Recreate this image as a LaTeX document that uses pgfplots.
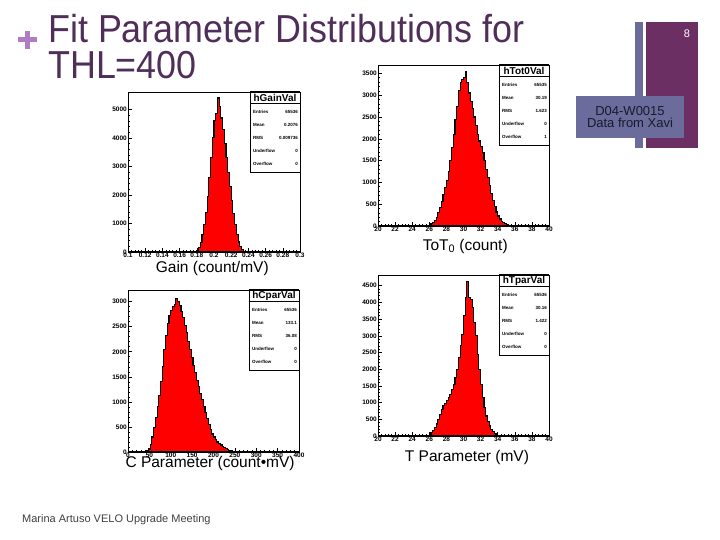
\documentclass[border=0pt]{standalone}
\usepackage{pgfplots}
\pgfplotsset{compat=1.18}
\usepackage{pgfplotstable}
\usepackage{fontspec}
\usepackage{graphicx}
\setmainfont{Liberation Sans}

\definecolor{titlecol}{HTML}{4F2F5A}
\definecolor{pluscol}{HTML}{B07CC2}
\definecolor{slate}{HTML}{6B6B9C}
\definecolor{plum}{HTML}{6B2F63}
\definecolor{foot}{HTML}{404040}
\definecolor{boxtext}{HTML}{1A1A2E}

% histogram contents, bin low edge and count
\pgfplotstableread{
x y
0.100 0
0.176 0
0.178 20
0.180 60
0.182 150
0.184 320
0.186 600
0.188 950
0.190 1400
0.192 1950
0.194 2600
0.196 3300
0.198 4000
0.200 4600
0.202 4850
0.204 5400
0.206 5100
0.208 4700
0.210 4300
0.212 3800
0.214 3300
0.216 2800
0.218 2300
0.220 1800
0.222 1350
0.224 950
0.226 600
0.228 350
0.230 180
0.232 80
0.234 30
0.236 10
0.238 0
0.300 0
}\gaindata

\pgfplotstableread{
x y
20.0 0
25.6 10
25.8 20
26.0 40
26.2 60
26.4 90
26.6 130
26.8 200
27.0 300
27.2 420
27.4 560
27.6 720
27.8 880
28.0 1050
28.2 1250
28.4 1500
28.6 1800
28.8 2100
29.0 2450
29.2 2750
29.4 3100
29.6 3300
29.8 3350
30.0 3400
30.2 3540
30.4 3300
30.6 3050
30.8 2850
31.0 2700
31.2 2500
31.4 2300
31.6 2100
31.8 1950
32.0 1820
32.2 1680
32.4 1500
32.6 1300
32.8 1120
33.0 930
33.2 750
33.4 580
33.6 440
33.8 320
34.0 230
34.2 160
34.4 110
34.6 75
34.8 50
35.0 30
35.2 20
35.4 10
35.6 5
35.8 0
40.0 0
}\totdata

\pgfplotstableread{
x y
0 0
40 5
44 20
48 60
52 150
56 300
60 480
64 680
68 900
72 1130
76 1400
80 1700
84 2050
88 2330
92 2560
96 2720
100 2830
104 2900
108 2950
112 3070
116 3000
120 2920
124 2800
128 2680
132 2530
136 2380
140 2200
144 2040
148 1880
152 1730
156 1580
160 1430
164 1300
168 1170
172 1040
176 910
180 780
184 660
188 540
192 440
196 360
200 300
204 250
208 200
212 170
216 140
220 110
224 85
228 65
232 50
236 35
240 25
244 15
248 10
252 5
256 0
400 0
}\cpardata

\pgfplotstableread{
x y
20.0 0
25.8 20
26.0 50
26.2 100
26.4 160
26.6 250
26.8 360
27.0 500
27.2 650
27.4 800
27.6 900
27.8 970
28.0 1050
28.2 1150
28.4 1250
28.6 1400
28.8 1550
29.0 1750
29.2 2000
29.4 2350
29.6 2700
29.8 3050
30.0 3600
30.2 4150
30.4 4620
30.6 4150
30.8 4100
31.0 3850
31.2 3400
31.4 3000
31.6 2450
31.8 2000
32.0 1550
32.2 1150
32.4 850
32.6 600
32.8 430
33.0 300
33.2 200
33.4 130
33.6 80
33.8 50
34.0 25
34.2 10
34.4 0
40.0 0
}\tpardata

\pgfplotsset{
  roothist/.style={
    scale only axis,
    anchor=south west,
    clip=false,
    xtick pos=bottom, ytick pos=left,
    tick align=inside,
    major tick length=4pt, minor tick length=2pt,
    minor x tick num=4, minor y tick num=4,
    tick style={black, line width=0.6pt},
    axis line style={line width=0.6pt},
    ticklabel style={font=\fontsize{6.5}{7}\selectfont\bfseries, inner sep=1pt},
    /pgf/number format/assume math mode=true,
    /pgf/number format/1000 sep={},
    scaled ticks=false,
    ymin=0,
  },
  histfill/.style={const plot, fill=red, draw=black, line width=1.1pt, mark=none},
}

\newcommand{\labfont}{\fontsize{15.5}{16}\selectfont}
\newcommand{\statbox}[7]{%
  \begin{scope}[shift={(#1.north east)}]
    \draw[fill=white, line width=0.5pt] (-50,0) rectangle (0,-80);
    \draw[line width=1pt] (-50,-12) -- (0,-12);
    \draw[line width=1pt] (-50,0) -- (0,0);
    \node[font=\fontsize{10}{10}\selectfont\bfseries, inner sep=0pt] at (-25,-6) {#2};
    \foreach \lab/\val [count=\i] in {Entries/#3, Mean/#4, RMS/#5, Underflow/#6, Overflow/#7} {
      \node[anchor=west, font=\fontsize{4.5}{5}\selectfont\bfseries, inner sep=0pt] at (-47,{-7-13*\i}) {\lab};
      \node[anchor=east, font=\fontsize{4.5}{5}\selectfont\bfseries, inner sep=0pt] at (-2,{-7-13*\i}) {\val};
    }
  \end{scope}
}

\begin{document}
\begin{tikzpicture}[x=1pt, y=1pt]
\path[use as bounding box, fill=white] (0,0) rectangle (720,540);

% slide decoration
\fill[slate] (635,518) rectangle (643,392);
\fill[plum] (646,518) rectangle (698,392);
\node[text=white, font=\fontsize{11}{11}\selectfont] at (687,506) {8};
\fill[slate] (576,444) rectangle (684,402);
\node[text=boxtext, font=\fontsize{13}{13}\selectfont, align=center] at (630,423) {D04-W0015\\[-1pt]Data from Xavi};

\fill[pluscol] (18,497.5) rectangle (37,502.5);
\fill[pluscol] (25,491) rectangle (30,508.5);
\node[anchor=base west, text=titlecol, font=\fontsize{39}{39}\selectfont, inner sep=0pt] at (48,497.5) {\scalebox{0.92}[1]{Fit Parameter Distributions for}};
\node[anchor=base west, text=titlecol, font=\fontsize{39}{39}\selectfont, inner sep=0pt] at (48,461.5) {\scalebox{0.92}[1]{THL=400}};

\node[anchor=west, text=foot, font=\fontsize{11}{11}\selectfont, inner sep=0pt] at (22,20) {Marina Artuso VELO Upgrade Meeting};

% Gain
\begin{axis}[roothist, name=gain, at={(128pt,288pt)}, width=172pt, height=160pt,
  xmin=0.1, xmax=0.3, ymax=5611,
  xtick={0.1,0.12,...,0.301}, ytick={0,1000,...,5000},
  xticklabels={0.1,0.12,0.14,0.16,0.18,0.2,0.22,0.24,0.26,0.28,0.3}]
\addplot[histfill] table {\gaindata} \closedcycle;
\node[font=\labfont] at (rel axis cs:0.49,0) [yshift=-16pt] {Gain (count/mV)};
\end{axis}
\statbox{gain}{hGainVal}{65536}{0.2076}{0.009736}{0}{0}

% ToT0
\begin{axis}[roothist, name=tot, at={(378pt,314pt)}, width=171pt, height=161pt,
  xmin=20, xmax=40, ymax=3693,
  xtick={20,22,...,40}, ytick={0,500,...,3500}]
\addplot[histfill] table {\totdata} \closedcycle;
\node[font=\labfont] at (rel axis cs:0.51,0) [yshift=-20pt] {ToT\textsubscript{0} (count)};
\end{axis}
\statbox{tot}{hTot0Val}{65535}{30.19}{1.623}{0}{1}

% C parameter
\begin{axis}[roothist, name=cpar, at={(128pt,88pt)}, width=171pt, height=162pt,
  xmin=0, xmax=400, ymax=3233,
  xtick={0,50,...,400}, ytick={0,500,...,3000}]
\addplot[histfill] table {\cpardata} \closedcycle;
\node[font=\labfont] at (rel axis cs:0.48,0) [yshift=-11pt] {C Parameter (count•mV)};
\end{axis}
\statbox{cpar}{hCparVal}{65536}{133.1}{36.08}{0}{0}

% T parameter
\begin{axis}[roothist, name=tpar, at={(378pt,104pt)}, width=171pt, height=161pt,
  xmin=20, xmax=40, ymax=4821,
  xtick={20,22,...,40}, ytick={0,500,...,4500}]
\addplot[histfill] table {\tpardata} \closedcycle;
\node[font=\labfont] at (rel axis cs:0.52,0) [yshift=-21pt] {T Parameter (mV)};
\end{axis}
\statbox{tpar}{hTparVal}{65536}{30.16}{1.422}{0}{0}
\end{tikzpicture}
\end{document}
